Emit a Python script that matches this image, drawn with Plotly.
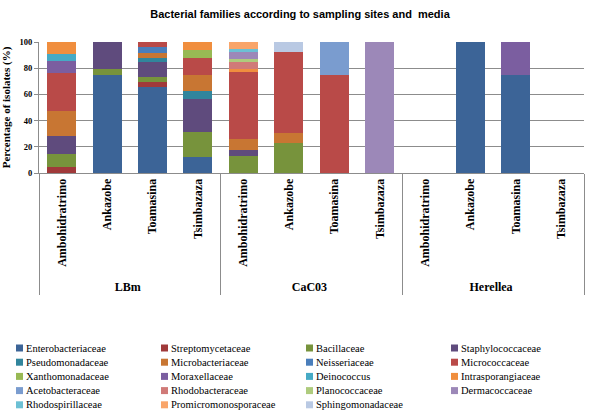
import plotly.graph_objects as go

# ---------------- data ----------------
groups = ["LBm"] * 4 + ["CaC03"] * 4 + ["Herellea"] * 4
sites = ["Ambohidratrimo", "Ankazobe", "Toamasina", "Tsimbazaza"] * 3

families = [
    "Enterobacteriaceae", "Streptomycetaceae", "Bacillaceae", "Staphylococcaceae",
    "Pseudomonadaceae", "Microbacteriaceae", "Neisseriaceae", "Micrococcaceae",
    "Xanthomonadaceae", "Moraxellaceae", "Deinococcus", "Intrasporangiaceae",
    "Acetobacteraceae", "Rhodobacteraceae", "Planococcaceae", "Dermacoccaceae",
    "Rhodospirillaceae", "Promicromonosporaceae", "Sphingomonadaceae",
]

colors = [
    "#3C6497", "#A0393A", "#77933C", "#5F4B7D",
    "#31859C", "#C87633", "#4A7EBB", "#B94A48",
    "#98B954", "#7B5EA0", "#46AAC5", "#F08E3E",
    "#7A9CCF", "#D07A78", "#AECB7D", "#9C88B8",
    "#6CC0D4", "#F9A56A", "#B9C9E3",
]

# percentage of isolates per bar (LBm x4, CaC03 x4, Herellea x4)
enterobacteriaceae = [0, 75, 66, 12.5, 0, 0, 0, 0, 0, 100, 75, 0]
streptomycetaceae = [4.8, 0, 3.5, 0, 0, 0, 0, 0, 0, 0, 0, 0]
bacillaceae = [9.5, 4.2, 4, 18.75, 12.8, 23.1, 0, 0, 0, 0, 0, 0]
staphylococcaceae = [14.3, 20.8, 11, 25, 5.1, 0, 0, 0, 0, 0, 0, 0]
pseudomonadaceae = [0, 0, 3.5, 6.25, 0, 0, 0, 0, 0, 0, 0, 0]
microbacteriaceae = [19.0, 0, 3.5, 12.5, 7.7, 7.7, 0, 0, 0, 0, 0, 0]
neisseriaceae = [0, 0, 4.5, 0, 0, 0, 0, 0, 0, 0, 0, 0]
micrococcaceae = [28.6, 0, 4, 12.5, 51.3, 61.5, 75, 0, 0, 0, 0, 0]
xanthomonadaceae = [0, 0, 0, 6.25, 0, 0, 0, 0, 0, 0, 0, 0]
moraxellaceae = [9.5, 0, 0, 0, 0, 0, 0, 0, 0, 0, 25, 0]
deinococcus = [4.8, 0, 0, 0, 0, 0, 0, 0, 0, 0, 0, 0]
intrasporangiaceae = [9.5, 0, 0, 6.25, 2.6, 0, 0, 0, 0, 0, 0, 0]
acetobacteraceae = [0, 0, 0, 0, 0, 0, 25, 0, 0, 0, 0, 0]
rhodobacteraceae = [0, 0, 0, 0, 5.1, 0, 0, 0, 0, 0, 0, 0]
planococcaceae = [0, 0, 0, 0, 2.6, 0, 0, 0, 0, 0, 0, 0]
dermacoccaceae = [0, 0, 0, 0, 5.1, 0, 0, 100, 0, 0, 0, 0]
rhodospirillaceae = [0, 0, 0, 0, 2.6, 0, 0, 0, 0, 0, 0, 0]
promicromonosporaceae = [0, 0, 0, 0, 5.1, 0, 0, 0, 0, 0, 0, 0]
sphingomonadaceae = [0, 0, 0, 0, 0, 7.7, 0, 0, 0, 0, 0, 0]

series = [
    enterobacteriaceae, streptomycetaceae, bacillaceae, staphylococcaceae,
    pseudomonadaceae, microbacteriaceae, neisseriaceae, micrococcaceae,
    xanthomonadaceae, moraxellaceae, deinococcus, intrasporangiaceae,
    acetobacteraceae, rhodobacteraceae, planococcaceae, dermacoccaceae,
    rhodospirillaceae, promicromonosporaceae, sphingomonadaceae,
]

y_ticks = [0, 20, 40, 60, 80, 100]

# ---------------- layout constants ----------------
W, H = 600, 415
ML, MR, MT, MB = 39, 16, 42, 242
PW, PH = W - ML - MR, H - MT - MB
SERIF = "Liberation Serif, Times New Roman, serif"
GRID = "#8c8c8c"


def px_x(px):
    return (px - ML) / PW


def px_y(py):
    return (H - MB - py) / PH


fig = go.Figure()
for name, vals, col in zip(families, series, colors):
    fig.add_trace(go.Bar(
        x=[groups, sites], y=vals, name=name,
        marker=dict(color=col, line=dict(width=0)),
        showlegend=False,
    ))

# manual legend (4 columns, Excel style)
col_x = [16, 161, 306, 451]
row_y0, row_dy = 348, 14.2
shapes, annotations = [], []
for i, (name, col) in enumerate(zip(families, colors)):
    c, r = i % 4, i // 4
    mx = col_x[c]
    my = row_y0 + r * row_dy
    shapes.append(dict(type="rect", xref="paper", yref="paper",
                       x0=px_x(mx), x1=px_x(mx + 7),
                       y0=px_y(my + 3.5), y1=px_y(my - 3.5),
                       fillcolor=col, line=dict(width=0)))
    annotations.append(dict(text=name, xref="paper", yref="paper",
                            x=px_x(mx + 8), y=px_y(my),
                            xanchor="left", yanchor="middle", showarrow=False,
                            font=dict(family=SERIF, size=10.5, color="#000")))

fig.update_layout(
    width=W, height=H,
    margin=dict(l=ML, r=MR, t=MT, b=MB, pad=0),
    paper_bgcolor="white", plot_bgcolor="white",
    barmode="stack", bargap=0.36,
    title=dict(text="Bacterial families according to sampling sites and\u00a0 media",
               x=0.5, xref="container", xanchor="center",
               y=1 - 14 / H, yref="container", yanchor="middle",
               font=dict(family="Liberation Sans, Arial, sans-serif",
                         size=11, color="#000", weight="bold")),
    shapes=shapes, annotations=annotations,
)

fig.update_yaxes(
    range=[0, 100], tickvals=y_ticks, showgrid=True, gridcolor=GRID, gridwidth=1,
    showline=True, linecolor=GRID, linewidth=1, ticks="outside", ticklen=4,
    tickcolor=GRID, zeroline=False,
    tickfont=dict(family=SERIF, size=8.5, color="#000", weight="bold"),
    title=dict(text="Percentage of isolates (%)", standoff=8,
               font=dict(family=SERIF, size=11, color="#000", weight="bold")),
    automargin=False,
)
fig.update_xaxes(
    type="multicategory", showline=True, linecolor=GRID, linewidth=1,
    showgrid=False, ticks="", tickangle=-90,
    showdividers=True, dividercolor=GRID, dividerwidth=1,
    tickfont=dict(family=SERIF, size=12, color="#000", weight="bold"),
    automargin=False,
)

fig.write_html("out.html",
               config={"displayModeBar": False},
               post_script="document.body.style.margin='0px';document.body.style.overflow='hidden';")
